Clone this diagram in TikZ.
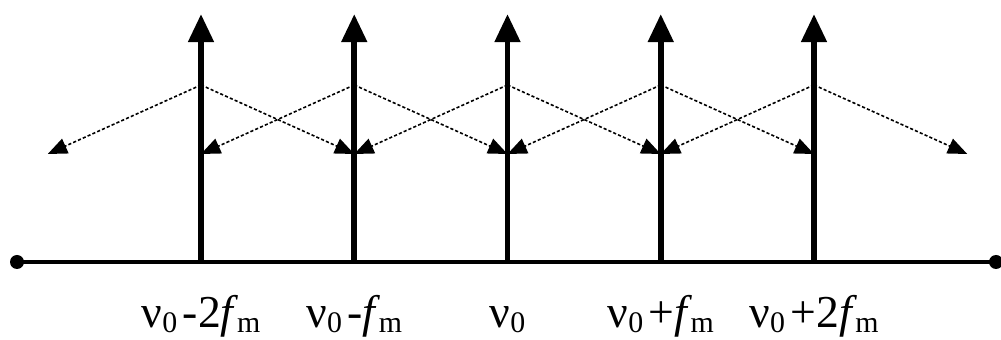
\documentclass[tikz,border=0pt]{standalone}
\usepackage{fontspec}
\setmainfont{Liberation Serif}
\usetikzlibrary{arrows.meta}
\newcommand{\lowsub}[1]{\raisebox{-0.1em}{\fontsize{17}{17}\selectfont #1}}
\newcommand{\nuzero}{ν\lowsub{0}}
\newcommand{\fmod}{\textit{f}\kern-0.04em\lowsub{m}}
\newcommand{\gap}{\hspace{0.12em}}

\begin{document}
\begin{tikzpicture}[x=0.02cm, y=-0.02cm,
    spike/.style={line width=3.4pt, -{Triangle[length=16pt,width=14pt]}},
    side/.style={line width=0.9pt, dash pattern=on 1.8pt off 1.2pt, -{Triangle[length=11pt,width=9pt]}},
    freq/.style={anchor=base, inner sep=0pt, font=\fontsize{26}{28}\selectfont}]
        \useasboundingbox (0,0) rectangle (1001,340);
        % frequency axis
        \coordinate (L) at (17,262); \coordinate (R) at (996,262);
        \draw[line width=2.6pt] (L) -- (R);
        \fill (L) circle (7); \fill (R) circle (7);
        % feet of the side arrows
        \foreach \i in {0,...,6}
          \coordinate (f\i) at ({47.75+153.25*\i},154);
        % spectral lines
        \foreach \i/\txt in {1/{\nuzero\gap-2\fmod}, 2/{\nuzero\gap-\fmod}, 3/{\nuzero}, 4/{\nuzero\gap+\fmod}, 5/{\nuzero\gap+2\fmod}} {
          \coordinate (b\i) at ({47.75+153.25*\i},262);
          \coordinate (t\i) at ({47.75+153.25*\i},14);
          \coordinate (a\i) at ({47.75+153.25*\i},85);
          \draw[spike] (b\i) -- (t\i);
          \node[freq] (lab\i) at ({47.75+153.25*\i},328) {\txt};
        }
        % coupling to neighbours
        \foreach \i [evaluate=\i as \l using int(\i-1), evaluate=\i as \r using int(\i+1)] in {1,...,5} {
          \draw[side] (a\i) -- (f\l);
          \draw[side] (a\i) -- (f\r);
        }
      \end{tikzpicture}
\end{document}
